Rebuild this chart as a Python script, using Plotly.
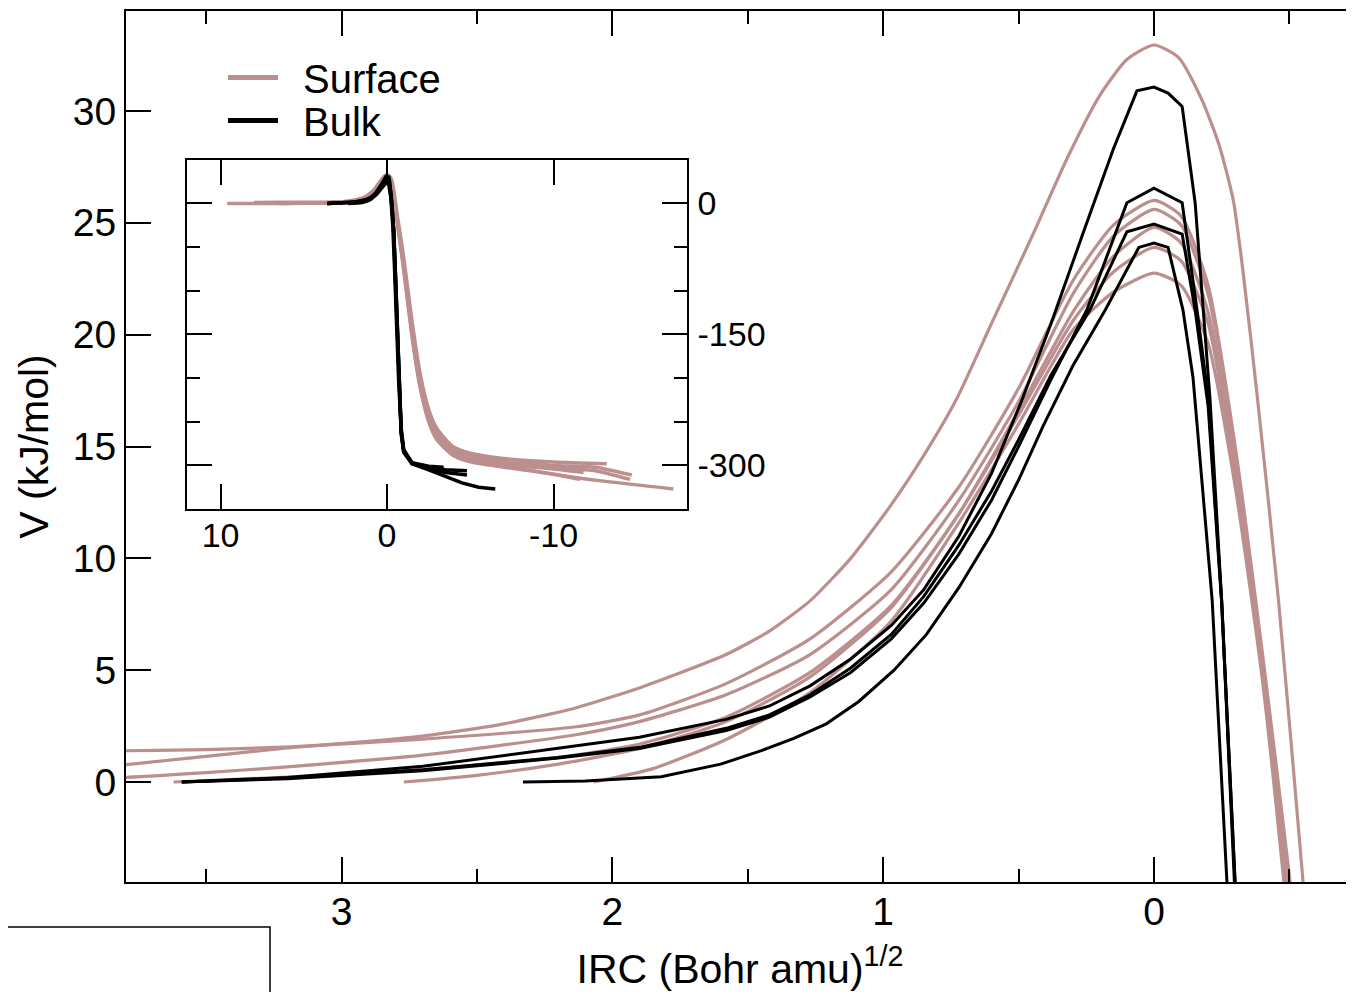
import plotly.graph_objects as go

# ---------- data: IRC (Bohr amu)^1/2 and V (kJ/mol) ----------
# surface curves
surf1_irc = [9.6, 6.0, 5.0, 4.4, 3.85, 3.5, 3.2, 2.9, 2.7, 2.4, 2.14, 1.89, 1.58, 1.42, 1.27, 1.12, 0.97, 0.85, 0.73,
             0.6, 0.45, 0.32, 0.2, 0.1, 0.0, -0.09, -0.177, -0.24, -0.293, -0.33, -0.38, -0.46, -0.55, -0.6, -0.8,
             -1.0, -1.3, -1.6, -2.0, -2.5, -3.0, -4.0, -5.0, -7.0, -10.0, -13.0, -17.2]
surf1_v = [0.0, 0.02, 0.15, 0.38, 0.72, 1.15, 1.52, 1.82, 2.05, 2.6, 3.3, 4.25, 5.7, 6.75, 8.1, 10.0, 12.4, 14.6, 17.1,
           20.5, 24.4, 27.9, 30.7, 32.3, 32.95, 32.4, 30.5, 28.5, 26.0, 22.7, 17.4, 8.1, -4.4, -12, -36,
           -62, -106, -148, -196, -236, -258, -280, -291, -300, -310, -318, -327]

surf2_irc = [8.0, 6.5, 4.5, 3.85, 3.5, 3.19, 2.7, 2.14, 1.9, 1.58, 1.27, 0.97, 0.72, 0.5, 0.3, 0.15, 0.0, -0.1, -0.2,
             -0.3, -0.4, -0.5, -0.6, -0.8, -1.0, -1.3, -1.6, -2.0, -2.5, -3.0, -4.0, -5.0, -7.0, -10.0, -13.2]
surf2_v = [1.2, 1.25, 1.33, 1.39, 1.45, 1.57, 1.92, 2.46, 3.0, 4.4, 6.4, 9.4, 13.2, 17.6, 22.4, 24.9, 26.0, 25.3, 22.2,
           15.0, 5.8, -4.2, -16, -42, -68, -112, -155, -202, -240, -262, -279, -286, -292, -296, -298]

surf3_irc = [6.5, 4.5, 3.85, 3.5, 3.2, 2.7, 2.14, 1.9, 1.58, 1.27, 0.97, 0.72, 0.5, 0.3, 0.15, 0.0, -0.1, -0.2, -0.3,
             -0.4, -0.5, -0.6, -0.8, -1.0, -1.3, -1.6, -2.0, -2.5, -3.0, -4.0, -5.0, -7.0, -10.0, -12.5, -14.7]
surf3_v = [0.0, 0.08, 0.18, 0.42, 0.68, 1.2, 2.1, 2.7, 3.9, 5.7, 8.6, 12.6, 17.0, 21.8, 24.4, 25.6, 24.9, 21.8, 14.6,
           5.4, -4.6, -17, -44, -71, -116, -160, -206, -243, -264, -281, -288, -295, -300, -302, -311]

surf4_irc = [3.62, 3.2, 2.7, 2.2, 1.9, 1.58, 1.27, 0.97, 0.72, 0.5, 0.3, 0.15, 0.0, -0.1, -0.2, -0.3, -0.4, -0.5,
             -0.6, -0.8, -1.0, -1.3, -1.6, -2.0, -2.5, -3.0, -4.0, -5.0, -7.0, -10.0, -12.5, -14.6]
surf4_v = [0.0, 0.22, 0.55, 1.1, 1.7, 2.9, 4.9, 7.9, 12.0, 16.6, 21.0, 23.5, 24.8, 24.1, 21.0, 14.0, 5.0, -5.0,
           -18, -45, -72, -118, -162, -208, -245, -266, -284, -291, -298, -303, -306, -316]

surf5_irc = [2.77, 2.5, 2.2, 1.9, 1.58, 1.27, 0.97, 0.72, 0.5, 0.3, 0.15, 0.0, -0.1, -0.2, -0.3, -0.4, -0.49,
             -0.6, -0.8, -1.0, -1.3, -1.6, -2.0, -2.5, -3.0, -4.0, -5.0, -7.0, -10.0, -11.8]
surf5_v = [0.0, 0.3, 0.8, 1.5, 2.7, 4.7, 7.8, 12.0, 16.4, 20.6, 22.8, 23.9, 23.3, 20.5, 13.6, 4.8, -4.6,
           -19, -46, -74, -120, -164, -210, -247, -268, -286, -293, -299, -304, -308]

surf6_irc = [2.07, 1.85, 1.58, 1.27, 0.97, 0.72, 0.5, 0.3, 0.15, 0.0, -0.1, -0.2, -0.3, -0.4, -0.48,
             -0.6, -0.8, -1.0, -1.3, -1.6, -2.0, -2.5, -3.0, -4.0, -5.0, -7.0, -10.0, -11.6]
surf6_v = [0.0, 0.6, 1.9, 4.0, 7.2, 11.6, 16.0, 20.2, 21.9, 22.75, 22.2, 19.6, 13.2, 4.6, -4.5,
           -20, -48, -76, -122, -166, -212, -250, -271, -289, -296, -302, -310, -316]

# bulk curves
bulk1_irc = [3.59, 3.2, 2.7, 2.2, 1.9, 1.58, 1.42, 1.27, 1.12, 0.97, 0.85, 0.72, 0.6, 0.49, 0.38, 0.263, 0.15, 0.063,
             0.0, -0.052, -0.104, -0.152, -0.18, -0.207, -0.25, -0.30, -0.4, -0.5, -0.6, -0.72, -0.85, -1.0, -1.5,
             -2.5, -3.5, -4.5, -5.5, -6.5]
bulk1_v = [0.0, 0.2, 0.7, 1.5, 2.0, 2.8, 3.4, 4.3, 5.5, 7.0, 8.6, 11.0, 13.8, 17.0, 20.5, 24.5, 28.3, 30.9,
           31.07, 30.8, 30.2, 25.9, 21.5, 17.1, 8.1, -4.6, -32, -80, -140, -210, -262, -284, -298,
           -305, -312, -320, -325, -327]

bulk2_irc = [3.59, 3.2, 2.7, 2.2, 1.9, 1.58, 1.42, 1.27, 1.12, 0.97, 0.85, 0.72, 0.6, 0.5, 0.38, 0.248, 0.1, 0.0,
             -0.104, -0.159, -0.2, -0.25, -0.30, -0.4, -0.5, -0.6, -0.72, -0.85, -1.0, -1.5, -2.5, -3.5, -4.8]
bulk2_v = [0.0, 0.15, 0.5, 1.07, 1.5, 2.3, 2.9, 3.8, 4.9, 6.4, 8.0, 10.2, 12.6, 15.0, 18.0, 21.1, 25.9, 26.55,
           25.9, 21.1, 17.2, 8.1, -4.6, -33, -82, -143, -212, -264, -285, -298, -303, -305, -306]

bulk3_irc = [3.59, 3.2, 2.7, 2.2, 1.9, 1.58, 1.42, 1.27, 1.12, 0.97, 0.85, 0.72, 0.6, 0.5, 0.38, 0.237, 0.1, 0.0,
             -0.104, -0.152, -0.2, -0.25, -0.30, -0.4, -0.5, -0.6, -0.72, -0.85, -1.0, -1.5, -2.5, -3.4]
bulk3_v = [0.0, 0.18, 0.55, 1.1, 1.55, 2.4, 3.0, 3.9, 5.1, 6.6, 8.3, 10.6, 13.0, 15.3, 18.2, 21.1, 24.6, 24.94,
           24.5, 21.1, 16.8, 8.0, -4.6, -30, -78, -138, -208, -260, -283, -297, -301, -302]

bulk4_irc = [2.33, 2.1, 1.82, 1.6, 1.45, 1.33, 1.21, 1.09, 0.96, 0.84, 0.72, 0.6, 0.5, 0.41, 0.3, 0.18, 0.056, 0.0,
             -0.052, -0.107, -0.144, -0.215, -0.27, -0.35, -0.45, -0.55, -0.7, -0.85, -1.0, -1.5, -2.5, -3.5, -4.8]
bulk4_v = [0.0, 0.05, 0.24, 0.8, 1.4, 1.95, 2.6, 3.6, 5.0, 6.6, 8.7, 11.1, 13.5, 15.9, 18.6, 21.1, 23.9, 24.1,
           23.9, 21.1, 18.1, 8.1, -4.6, -28, -75, -135, -205, -258, -282, -297, -304, -308, -311]

surface = [(surf1_irc, surf1_v), (surf2_irc, surf2_v), (surf3_irc, surf3_v),
           (surf4_irc, surf4_v), (surf5_irc, surf5_v), (surf6_irc, surf6_v)]
bulk = [(bulk1_irc, bulk1_v), (bulk2_irc, bulk2_v), (bulk3_irc, bulk3_v), (bulk4_irc, bulk4_v)]

SURF_COLOR = 'rosybrown'
BULK_COLOR = 'black'
FONT = 'Liberation Sans, Arial, sans-serif'

# page has an 8px body margin, so the figure is 8px smaller and the margins shifted
W, H = 1346, 984
L, T, B = 118, 2.5, 110.3
PW, PH = W - L, H - T - B


def px(x):  # page pixel -> paper x
    return (x - 8 - L) / PW


def py(y):  # page pixel -> paper y
    return (H - B - (y - 8)) / PH


fig = go.Figure()

# ---------- main panel + inset (same curves) ----------
for xa, ya, w in [('x', 'y', 3.2), ('x2', 'y2', 3.5)]:
    for irc, v in surface:
        fig.add_trace(go.Scatter(x=irc, y=v, mode='lines', xaxis=xa, yaxis=ya, name='Surface',
                                 line=dict(color=SURF_COLOR, width=w, shape='spline', smoothing=0.6)))
for xa, ya, w in [('x', 'y', 3), ('x2', 'y2', 3.5)]:
    for irc, v in bulk:
        fig.add_trace(go.Scatter(x=irc, y=v, mode='lines', xaxis=xa, yaxis=ya, name='Bulk',
                                 line=dict(color=BULK_COLOR, width=w)))

# dummy trace so the right-hand tick axis is drawn
fig.add_trace(go.Scatter(x=[None], y=[None], xaxis='x', yaxis='y3', hoverinfo='skip'))

axis_common = dict(showgrid=False, zeroline=False, showline=True, linecolor='black', linewidth=2,
                   ticks='inside', tickcolor='black', tickwidth=2, ticklen=25)

fig.update_layout(
    width=W, height=H,
    margin=dict(l=L, r=0, t=T, b=B, autoexpand=False),
    paper_bgcolor='white', plot_bgcolor='white',
    font=dict(family=FONT, size=39, color='black'),
    showlegend=False,
    xaxis=dict(axis_common, domain=[0, 1], range=[3.796, -0.7386], dtick=1, tick0=0,
               mirror='ticks', tickfont=dict(size=39), ticklabelstandoff=-6,
               minor=dict(dtick=0.5, tick0=0, ticks='inside', ticklen=13, tickwidth=2, tickcolor='black'),
               title=dict(text='IRC (Bohr amu)<sup>1/2</sup>', font=dict(size=41), standoff=25)),
    yaxis=dict(axis_common, domain=[0, 1], range=[-4.47, 34.47], dtick=5, tick0=0,
               mirror=False, tickfont=dict(size=39),
               title=dict(text='V (kJ/mol)', font=dict(size=41), standoff=11)),
    yaxis3=dict(overlaying='y', side='right', range=[-4.47, 34.47], dtick=5, tick0=0,
                showgrid=False, zeroline=False, showline=False, showticklabels=False,
                ticks='inside', tickcolor='black', tickwidth=2, ticklen=8),
    xaxis2=dict(axis_common, domain=[px(187.3), px(686.7)], anchor='y2', range=[12, -18],
                tickvals=[10, 0, -10], ticktext=['10', '0', '-10'],
                mirror='ticks', tickfont=dict(size=34), ticklabelstandoff=-5),
    yaxis2=dict(axis_common, domain=[py(508.7), py(159.3)], anchor='x2', side='right', range=[-350, 50],
                tickvals=[0, -150, -300], ticktext=['0', '-150', '-300'], mirror='ticks', tickfont=dict(size=34),
                ticklabelstandoff=2,
                minor=dict(tickvals=[-50, -100, -200, -250], ticks='inside', ticklen=13, tickwidth=2,
                           tickcolor='black')),
)

# legend drawn by hand: long swatches as in the original
for label, color, yy in [('Surface', SURF_COLOR, 77), ('Bulk', BULK_COLOR, 120)]:
    fig.add_shape(type='line', xref='paper', yref='paper', x0=px(228), x1=px(278), y0=py(yy), y1=py(yy),
                  line=dict(color=color, width=5))
    fig.add_annotation(text=label, xref='paper', yref='paper', x=px(301), y=py(yy + 2),
                       xanchor='left', yanchor='middle', showarrow=False, font=dict(size=40))

# stray frame in the lower left corner of the original
fig.add_shape(type='rect', xref='paper', yref='paper', x0=px(0), x1=px(270), y0=py(1010), y1=py(926.7),
              line=dict(color='black', width=1.5), fillcolor='rgba(0,0,0,0)', layer='above')

fig.write_html("out.html")
